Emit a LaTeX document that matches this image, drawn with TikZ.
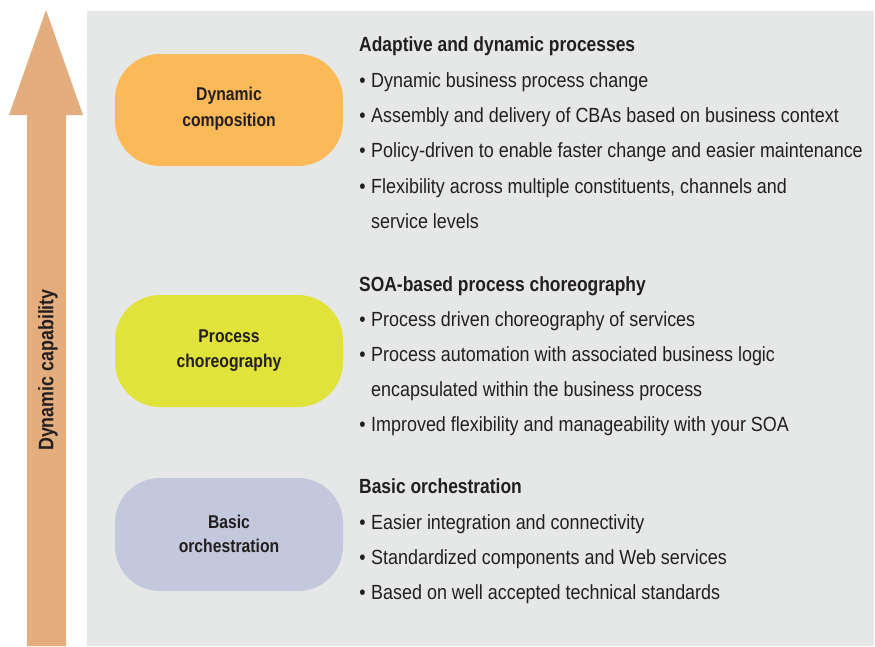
\documentclass[tikz,border=0pt]{standalone}
\usepackage{fontspec}
\setmainfont{Liberation Sans}[FakeStretch=0.85]
\newfontfamily\itemfont{Liberation Sans}[FakeStretch=0.875]
\definecolor{panel}{HTML}{E6E7E7}
\definecolor{arrowc}{HTML}{E3AD7E}
\definecolor{dyn}{HTML}{FBB957}
\definecolor{proc}{HTML}{E2E33A}
\definecolor{basic}{HTML}{C3C8DC}
\definecolor{txt}{HTML}{231F20}
\tikzset{
  pill/.style={rounded corners=45pt, draw=none},
  itemtext/.style={anchor=base west, inner sep=0pt, text=txt, font=\itemfont\fontsize{20.5}{24}\selectfont},
  headtext/.style={anchor=base west, inner sep=0pt, text=txt, font=\fontsize{20.5}{24}\selectfont\bfseries},
  boxtext/.style={anchor=base, inner sep=0pt, text=txt, font=\fontsize{18.5}{22}\selectfont\bfseries},
}
\newcommand{\bul}{\llap{\textbullet\hspace{5.5pt}}}
\begin{document}
\begin{tikzpicture}[x=1pt,y=-1pt]
\useasboundingbox (0,0) rectangle (875,646);
% panel
\fill[panel] (87,11) rectangle (874,646);
% arrow
\fill[arrowc] (46,10) -- (83,115) -- (66,115) -- (66,646) -- (27,646) -- (27,115) -- (9,115) -- cycle;
\node[rotate=90, anchor=base, inner sep=0pt, text=txt, font=\fontsize{21}{24}\selectfont\bfseries] (cap) at (53.3,370) {Dynamic capability};
% pills
\fill[dyn, pill] (115,54) rectangle (343,166);
\fill[proc, pill] (115,295) rectangle (343,407);
\fill[basic, pill] (115,478) rectangle (343,591);
\node[boxtext] (d1) at (229,100.7) {Dynamic};
\node[boxtext] (d2) at (229,126) {composition};
\node[boxtext] (p1) at (229,342.7) {Process};
\node[boxtext] (p2) at (229,367.3) {choreography};
\node[boxtext] (b1) at (229,528.3) {Basic};
\node[boxtext] (b2) at (229,552.7) {orchestration};
% section 1
\node[headtext] (h1) at (359,51) {Adaptive and dynamic processes};
\node[itemtext] (a1) at (371,87) {\bul Dynamic business process change};
\node[itemtext] (a2) at (371,122.3) {\bul Assembly and delivery of CBAs based on business context};
\node[itemtext] (a3) at (371,157.6) {\bul Policy-driven to enable faster change and easier maintenance};
\node[itemtext] (a4) at (371,193) {\bul Flexibility across multiple constituents, channels and};
\node[itemtext] (a5) at (371,228.3) {service levels};
% section 2
\node[headtext] (h2) at (359,291) {SOA-based process choreography};
\node[itemtext] (s1) at (371,326) {\bul Process driven choreography of services};
\node[itemtext] (s2) at (371,361) {\bul Process automation with associated business logic};
\node[itemtext] (s3) at (371,396.5) {encapsulated within the business process};
\node[itemtext] (s4) at (371,431.7) {\bul Improved flexibility and manageability with your SOA};
% section 3
\node[headtext] (h3) at (359,493.5) {Basic orchestration};
\node[itemtext] (o1) at (371,529) {\bul Easier integration and connectivity};
\node[itemtext] (o2) at (371,564.5) {\bul Standardized components and Web services};
\node[itemtext] (o3) at (371,599.5) {\bul Based on well accepted technical standards};
\end{tikzpicture}
\end{document}
